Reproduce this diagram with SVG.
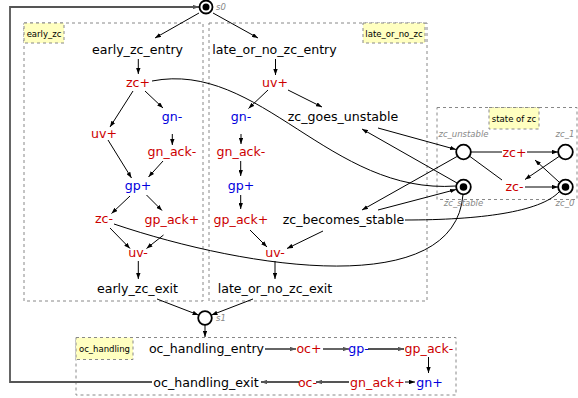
<svg xmlns="http://www.w3.org/2000/svg" width="578" height="398" viewBox="0 0 578 398">
<defs>
<marker id="a" markerUnits="userSpaceOnUse" markerWidth="6" markerHeight="4.4" refX="6" refY="2.2" orient="auto"><path d="M0,0 L6,2.2 L0,4.4 z" fill="#000"/></marker>
<marker id="g" markerUnits="userSpaceOnUse" markerWidth="6" markerHeight="4.4" refX="6" refY="2.2" orient="auto"><path d="M0,0 L6,2.2 L0,4.4 z" fill="#555"/></marker>
</defs>
<style>
.t{font-family:"DejaVu Sans",sans-serif;font-size:12.6px;text-anchor:middle;fill:#000}
.r{fill:#cc0000}
.b{fill:#0000dd}
.lbl{font-family:"DejaVu Sans",sans-serif;font-size:8.5px;font-style:italic;fill:#888}
.box{fill:none;stroke:#888;stroke-width:1;stroke-dasharray:3,3}
.tag{fill:#ffffc0;stroke:#888;stroke-width:1;stroke-dasharray:3,3}
.tagt{font-family:"DejaVu Sans",sans-serif;font-size:8.5px;text-anchor:middle;fill:#000}
.e{fill:none;stroke:#000;stroke-width:1;marker-end:url(#a)}
.ra{fill:none;stroke:#000;stroke-width:1}
.ge{fill:none;stroke:#555;stroke-width:1.8;marker-end:url(#g)}
.pl{fill:#fff;stroke:#000;stroke-width:1.8}
</style>

<g id="boxes">
<rect class="box" x="24" y="23" width="179" height="278"/>
<rect class="tag" x="24" y="23" width="40" height="20"/>
<text class="tagt" x="44" y="36.5">early_zc</text>
<rect class="box" x="209" y="23" width="218" height="278"/>
<rect class="tag" x="363" y="23" width="62" height="20"/>
<text class="tagt" x="394" y="36.5">late_or_no_zc</text>
<rect class="box" x="437" y="107.5" width="140" height="92"/>
<rect class="tag" x="489" y="107.5" width="50" height="21.5"/>
<text class="tagt" x="514" y="121.5">state of zc</text>
<rect class="box" x="76" y="337.5" width="380" height="57.5"/>
<rect class="tag" x="76" y="337.5" width="57" height="22"/>
<text class="tagt" x="104.5" y="351.5">oc_handling</text>
</g>

<g id="connectors">
<path class="ge" d="M152,382 L10,382 L10,7 L199,7"/>
<path class="e" d="M199,13 L155,38"/>
<path class="e" d="M213,13 L258,38"/>
<path class="e" d="M138.3,59 L138.3,74"/>
<path class="e" d="M133,91 L110,127"/>
<path class="e" d="M145,91 L163,108"/>
<path class="e" d="M108,140 L131.5,178"/>
<path class="e" d="M172.3,134 L172.3,145"/>
<path class="e" d="M163,161 L148.5,177"/>
<path class="e" d="M130,196 L111.5,213.5"/>
<path class="e" d="M146.5,195 L162,210.5"/>
<path class="e" d="M110,228 L130,248.5"/>
<path class="e" d="M163.5,235 L146.5,248.5"/>
<path class="e" d="M138.3,261 L138.3,279"/>
<path class="e" d="M157,299 L198.5,315"/>
<path class="e" d="M253,299 L211.5,315"/>
<path class="e" d="M205,325 L205,337"/>
<path class="e" d="M275.5,59 L275.5,75"/>
<path class="e" d="M268,90 L248.5,108.5"/>
<path class="e" d="M288,90 L322,107"/>
<path class="e" d="M241,134 L241,144"/>
<path class="e" d="M240.7,161 L240.7,176"/>
<path class="e" d="M240.7,195 L240.7,209"/>
<path class="e" d="M250,230 L267,247"/>
<path class="e" d="M323,231 L287,248.5"/>
<path class="e" d="M275,261 L275,279"/>
<path class="e" d="M457,183 L362,129"/>
<path class="e" d="M378,128 L456,149.5"/>
<path class="e" d="M457,156.5 L362,210"/>
<path class="e" d="M378,210 L456,189.5"/>
<path class="ra" d="M152,81 C260,60 330,195 456,186"/>
<path class="ra" d="M114,224 C250,270 455,300 463,194.5"/>
<path class="ra" d="M405,220 C480,220 540,212 559,192"/>
<path class="ra" d="M471,152 L502,152"/>
<path class="e" d="M527,152 L558,152"/>
<path class="ra" d="M470,156.5 L502,180"/>
<path class="e" d="M525,187 L558,187"/>
<path class="e" d="M559,182 L535,160"/>
<path class="e" d="M559,156.5 L525,179.5"/>
<path class="ge" d="M265,349 L296,349"/>
<path class="ge" d="M323,349 L349,349"/>
<path class="ge" d="M368,349 L404,349"/>
<path class="e" d="M428.5,357 L428.5,373"/>
<path class="e" d="M405,382 L415,382"/>
<path class="ge" d="M349,382 L316,382"/>
<path class="ge" d="M299,382 L261,382"/>
</g>

<g id="s0"><circle class="pl" cx="206" cy="7" r="6.5"/><circle cx="206" cy="7" r="3.5" fill="#000"/><text class="lbl" x="216" y="10">s0</text></g>
<g id="s1"><circle class="pl" cx="205" cy="318" r="6.8"/><text class="lbl" x="216" y="321">s1</text></g>

<g id="early_zc_entry"><text class="t" x="137.5" y="54">early_zc_entry</text></g>
<g id="e_zc_plus"><text class="t r" x="138" y="87">zc+</text></g>
<g id="e_uv_plus"><text class="t r" x="104" y="138">uv+</text></g>
<g id="e_gn_minus"><text class="t b" x="172" y="121">gn-</text></g>
<g id="e_gn_ack_minus"><text class="t r" x="172" y="155.5">gn_ack-</text></g>
<g id="e_gp_plus"><text class="t b" x="138" y="190">gp+</text></g>
<g id="e_zc_minus"><text class="t r" x="104" y="223">zc-</text></g>
<g id="e_gp_ack_plus"><text class="t r" x="172" y="224">gp_ack+</text></g>
<g id="e_uv_minus"><text class="t r" x="138" y="257">uv-</text></g>
<g id="early_zc_exit"><text class="t" x="137.5" y="292.5">early_zc_exit</text></g>

<g id="late_or_no_zc_entry"><text class="t" x="274.5" y="54">late_or_no_zc_entry</text></g>
<g id="l_uv_plus"><text class="t r" x="275" y="87">uv+</text></g>
<g id="l_gn_minus"><text class="t b" x="241" y="121">gn-</text></g>
<g id="zc_goes_unstable"><text class="t" x="343" y="121">zc_goes_unstable</text></g>
<g id="l_gn_ack_minus"><text class="t r" x="241" y="155.5">gn_ack-</text></g>
<g id="l_gp_plus"><text class="t b" x="241" y="190">gp+</text></g>
<g id="l_gp_ack_plus"><text class="t r" x="241" y="224">gp_ack+</text></g>
<g id="zc_becomes_stable"><text class="t" x="343.5" y="224">zc_becomes_stable</text></g>
<g id="l_uv_minus"><text class="t r" x="275" y="257">uv-</text></g>
<g id="late_or_no_zc_exit"><text class="t" x="275" y="292.5">late_or_no_zc_exit</text></g>

<g id="zc_unstable"><circle class="pl" cx="463.5" cy="152" r="7.3"/><text class="lbl" x="463.5" y="137" text-anchor="middle">zc_unstable</text></g>
<g id="zc_stable"><circle class="pl" cx="463.5" cy="187" r="7.3"/><circle cx="463.5" cy="187" r="3.8" fill="#000"/><text class="lbl" x="463.5" y="206" text-anchor="middle">zc_stable</text></g>
<g id="zc_1"><circle class="pl" cx="565.5" cy="152" r="7.3"/><text class="lbl" x="565" y="137" text-anchor="middle">zc_1</text></g>
<g id="zc_0"><circle class="pl" cx="565.5" cy="187" r="7.3"/><circle cx="565.5" cy="187" r="3.8" fill="#000"/><text class="lbl" x="565" y="206" text-anchor="middle">zc_0</text></g>
<g id="s_zc_plus"><text class="t r" x="514.5" y="156.5">zc+</text></g>
<g id="s_zc_minus"><text class="t r" x="514.5" y="190.5">zc-</text></g>

<g id="oc_handling_entry"><text class="t" x="206.5" y="353">oc_handling_entry</text></g>
<g id="oc_plus"><text class="t r" x="309" y="353">oc+</text></g>
<g id="gp_minus"><text class="t b" x="358.5" y="353">gp-</text></g>
<g id="gp_ack_minus"><text class="t r" x="429" y="353">gp_ack-</text></g>
<g id="gn_plus"><text class="t b" x="429.5" y="386.5">gn+</text></g>
<g id="gn_ack_plus"><text class="t r" x="377.5" y="386.5">gn_ack+</text></g>
<g id="oc_minus"><text class="t r" x="307.5" y="386.5">oc-</text></g>
<g id="oc_handling_exit"><text class="t" x="206" y="386.5">oc_handling_exit</text></g>
</svg>
